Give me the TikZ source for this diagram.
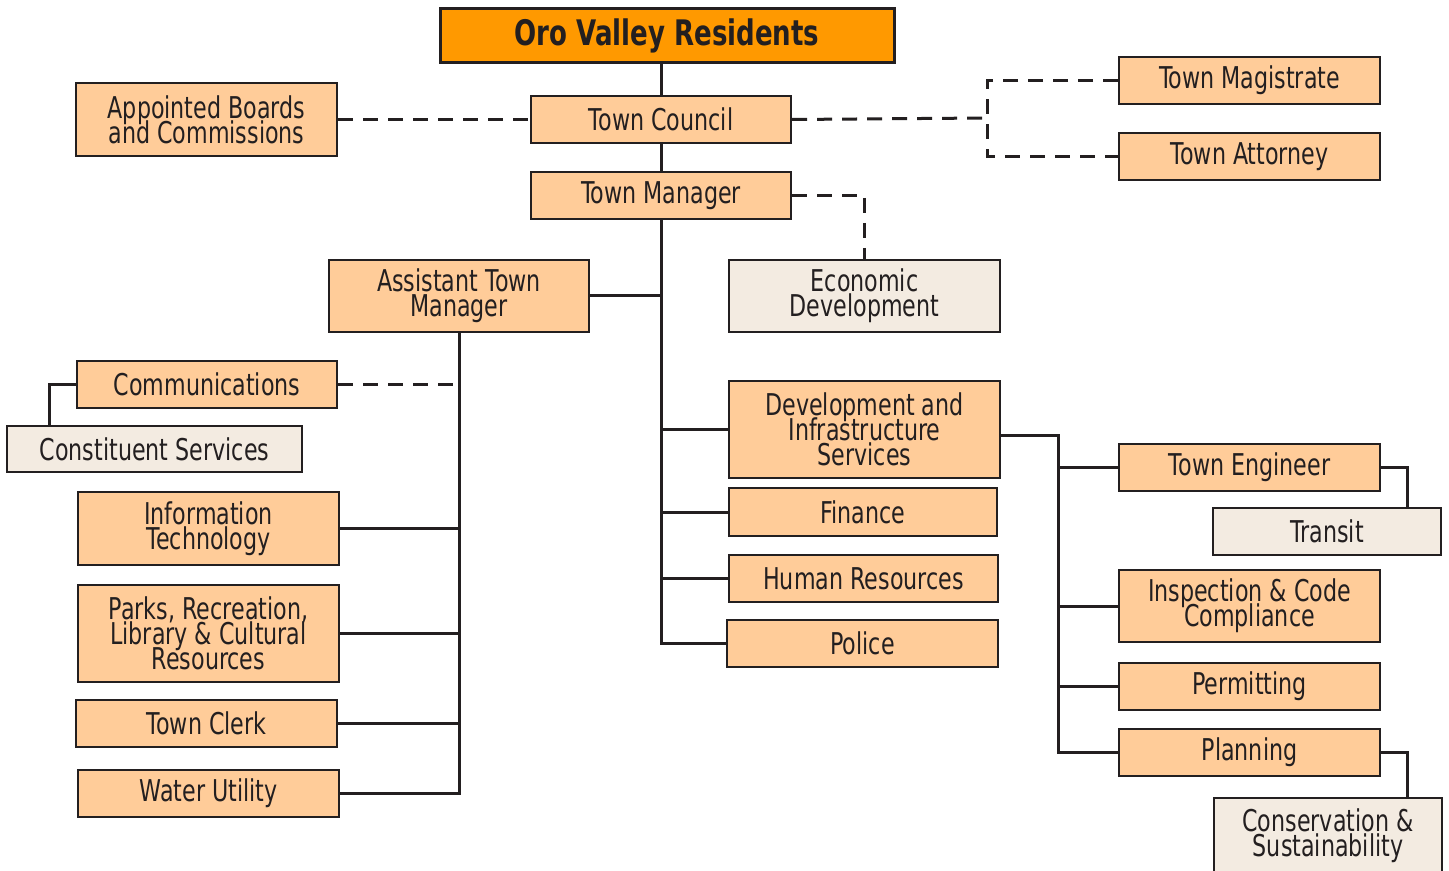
\documentclass[tikz,border=0pt]{standalone}
\usepackage{fontspec}
\setmainfont{DejaVu Sans}[FakeStretch=0.74]
\definecolor{titlefill}{HTML}{FF9900}
\definecolor{unitfill}{HTML}{FFCC99}
\definecolor{subfill}{HTML}{F3EBE1}
\definecolor{inkline}{HTML}{231F20}
\newcommand\unitfont{\fontsize{15}{12.5}\selectfont\lineskiplimit=-100pt\lineskip=0pt}
\newcommand\headfont{\fontsize{17.6}{17.6}\selectfont\bfseries}
% box from pixel corners (x1,y1)-(x2,y2)
\newcommand\orgnode[7]{%
  \node[#1, minimum width={(#5-#3)*0.5pt}, minimum height={(#6-#4)*0.5pt}]
    (#2) at ({(#3+#5)/2},{(#4+#6)/2}) {#7};}
\begin{document}
\begin{tikzpicture}[x=0.5pt,y=-0.5pt,
  unit/.style={draw=inkline, line width=1pt, fill=unitfill, inner sep=0pt,
    align=center, font=\unitfont, text=inkline},
  subunit/.style={unit, fill=subfill},
  headbox/.style={unit, fill=titlefill, line width=1.5pt, font=\headfont},
  link/.style={draw=inkline, line width=1.5pt},
  dlink/.style={link, dash pattern=on 7.5pt off 5pt}]
\useasboundingbox (0,0) rectangle (1449,871);

% central column
\orgnode{headbox}{resid}{440}{9}{894}{63}{Oro Valley Residents}
\orgnode{unit}{council}{531}{96}{791}{143}{Town Council}
\orgnode{unit}{manager}{531}{172}{791}{219}{Town Manager}
\orgnode{unit}{boards}{76}{83}{337}{156}{Appointed Boards\\and Commissions}
\orgnode{unit}{magistrate}{1119}{57}{1380}{104}{Town Magistrate}
\orgnode{unit}{attorney}{1119}{133}{1380}{180}{Town Attorney}
\orgnode{subunit}{econ}{729}{260}{1000}{332}{Economic\\Development}

% assistant town manager branch
\orgnode{unit}{atm}{329}{260}{589}{332}{Assistant Town\\Manager}
\orgnode{unit}{comm}{77}{361}{337}{408}{Communications}
\orgnode{subunit}{constit}{7}{426}{302}{472}{Constituent Services}
\orgnode{unit}{it}{78}{492}{339}{565}{Information\\Technology}
\orgnode{unit}{parks}{78}{585}{339}{682}{Parks, Recreation,\\Library \& Cultural\\Resources}
\orgnode{unit}{clerk}{76}{700}{337}{747}{Town Clerk}
\orgnode{unit}{water}{78}{770}{339}{817}{Water Utility}

% departments under the town manager
\orgnode{unit}{dis}{729}{381}{1000}{478}{Development and\\Infrastructure\\Services}
\orgnode{unit}{finance}{729}{488}{997}{536}{Finance}
\orgnode{unit}{hr}{729}{555}{998}{602}{Human Resources}
\orgnode{unit}{police}{727}{620}{998}{667}{Police}

% development and infrastructure divisions
\orgnode{unit}{engineer}{1119}{444}{1380}{491}{Town Engineer}
\orgnode{subunit}{transit}{1213}{508}{1441}{555}{Transit}
\orgnode{unit}{inspect}{1119}{570}{1380}{642}{Inspection \& Code\\Compliance}
\orgnode{unit}{permit}{1119}{663}{1380}{710}{Permitting}
\orgnode{unit}{planning}{1119}{729}{1380}{776}{Planning}
\orgnode{subunit}{conserv}{1214}{798}{1442}{874}{Conservation \&\\Sustainability}

% solid reporting lines
\draw[link] (council.north |- resid.south) -- (council.north);
\draw[link] (council.south) -- (manager.north);
\draw[link] (manager.south) |- (police.west);
\foreach \n in {dis, finance, hr}
  \draw[link] (\n.west) -- (\n.west -| manager.south);
\draw[link] (atm.east) -- (atm.east -| manager.south);
\draw[link] (atm.south) |- (water.east);
\foreach \n in {it, parks, clerk}
  \draw[link] (\n.east) -- (\n.east -| atm.south);
\draw[link] (comm.west) -| ([xshift=21.5pt]constit.north west);
\draw[link] ([yshift=-2.75pt]dis.east) -| ([xshift=-30pt]planning.west) -- (planning.west);
\foreach \n in {engineer, inspect, permit}
  \draw[link] (\n.west) -- ++(-30pt,0);
\draw[link] (engineer.east) -| ([xshift=-17.5pt]transit.north east);
\draw[link] (planning.east) -| ([xshift=-18pt]conserv.north east);

% dashed advisory lines
\coordinate (legaljoin) at (987,118);
\draw[dlink] (boards.east) -- (council.west);
\draw[dlink] (council.east) -- (legaljoin);
\draw[dlink] (magistrate.west) -| (legaljoin) |- (attorney.west);
\draw[dlink] (manager.east) -| (econ.north);
\draw[dlink] (comm.east) -- ++(57.5pt,0);
\end{tikzpicture}
\end{document}
